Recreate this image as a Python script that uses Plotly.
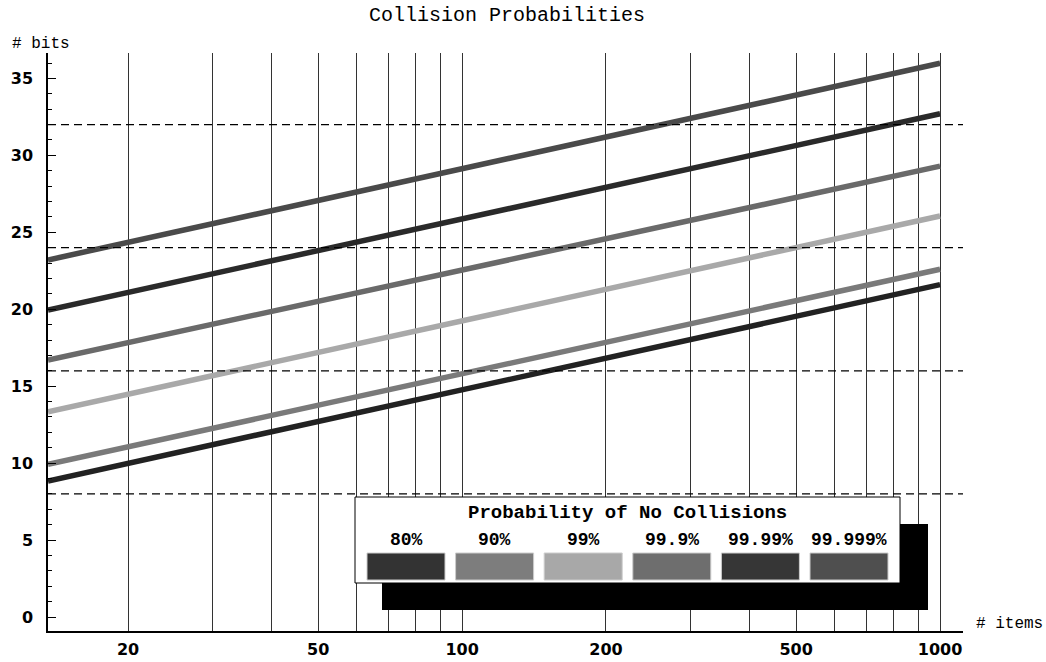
import math
import plotly.graph_objects as go

# ---- data ----
probabilities = ["80%", "90%", "99%", "99.9%", "99.99%", "99.999%"]
items_range = [13.6, 1000]
bits_80 = [8.84, 21.6]
bits_90 = [9.92, 22.6]
bits_99 = [13.34, 26.06]
bits_999 = [16.7, 29.3]
bits_9999 = [19.95, 32.7]
bits_99999 = [23.2, 35.98]
series = [bits_80, bits_90, bits_99, bits_999, bits_9999, bits_99999]
line_colors = ["#222222", "#7a7a7a", "#a9a9a9", "#6a6a6a", "#2a2a2a", "#4a4a4a"]
swatch_colors = ["#333333", "#7d7d7d", "#a8a8a8", "#6e6e6e", "#363636", "#4f4f4f"]

grid_items = [20, 30, 40, 50, 60, 70, 80, 90, 100, 200, 300, 400, 500, 600, 700, 800, 900, 1000]
labelled_items = [20, 50, 100, 200, 500, 1000]
bit_ticks = [0, 5, 10, 15, 20, 25, 30, 35]
bit_guides = [8, 16, 24, 32]

mono = "Liberation Mono, Courier New, monospace"
sans = "DejaVu Sans, sans-serif"

W, H = 1046, 662
PL, PR, PT, PB = 48, 963, 53, 631  # plot area in window pixels

fig = go.Figure()
for name, ys, col in zip(probabilities, series, line_colors):
    fig.add_trace(go.Scatter(x=items_range, y=ys, mode="lines", name=name,
                             line=dict(color=col, width=5.5), showlegend=False,
                             hoverinfo="skip"))


def px_x(px):
    return (px - PL) / float(PR - PL)


def px_y(py):
    return (PB - py) / float(PB - PT)


shapes = []
for g in bit_guides:
    shapes.append(dict(type="line", xref="paper", yref="y", x0=0, x1=1, y0=g, y1=g,
                       line=dict(color="black", width=1.2, dash="8px,5px"), layer="above"))

# legend box (shadow + white box)
shapes.append(dict(type="rect", xref="paper", yref="paper",
                   x0=px_x(382), x1=px_x(928), y0=px_y(610), y1=px_y(524),
                   fillcolor="black", line=dict(width=0), layer="above"))
shapes.append(dict(type="rect", xref="paper", yref="paper",
                   x0=px_x(355), x1=px_x(900), y0=px_y(583), y1=px_y(497),
                   fillcolor="white", line=dict(color="black", width=1), layer="above"))

annotations = [
    dict(text="<b>Probability of No Collisions</b>", xref="paper", yref="paper",
         x=px_x(627), y=px_y(513), xanchor="center", yanchor="middle", showarrow=False,
         font=dict(family=mono, size=19, color="black")),
    dict(text="# bits", xref="paper", yref="paper", x=px_x(10), y=px_y(44),
         xanchor="left", yanchor="middle", showarrow=False,
         font=dict(family=mono, size=16, color="black")),
    dict(text="# items", xref="paper", yref="paper", x=px_x(974), y=px_y(624),
         xanchor="left", yanchor="middle", showarrow=False,
         font=dict(family=mono, size=16, color="black")),
]

sw_start = 367
sw_step = 88.6
sw_w = 78
for i, (lab, col) in enumerate(zip(probabilities, swatch_colors)):
    x0 = sw_start + i * sw_step
    shapes.append(dict(type="rect", xref="paper", yref="paper",
                       x0=px_x(x0), x1=px_x(x0 + sw_w), y0=px_y(580), y1=px_y(553),
                       fillcolor=col, line=dict(color="#cccccc", width=1), layer="above"))
    annotations.append(dict(text="<b>" + lab + "</b>", xref="paper", yref="paper",
                            x=px_x(x0 + sw_w / 2), y=px_y(540), xanchor="center",
                            yanchor="middle", showarrow=False,
                            font=dict(family=mono, size=18, color="black")))

fig.update_layout(
    width=W, height=H,
    margin=dict(l=PL, r=W - PR, t=PT, b=H - PB, autoexpand=False),
    paper_bgcolor="white", plot_bgcolor="white",
    title=dict(text="Collision Probabilities", x=507 / W, y=1 - 14 / H,
               xanchor="center", yanchor="middle",
               font=dict(family=mono, size=20, color="black")),
    shapes=shapes, annotations=annotations,
    xaxis=dict(type="log", range=[math.log10(13.6), 3.048], automargin=False,
               tickvals=grid_items,
               ticktext=[str(v) if v in labelled_items else "" for v in grid_items],
               showgrid=True, gridcolor="#333333", gridwidth=1,
               showline=True, linecolor="black", linewidth=1.5,
               ticks="", zeroline=False, ticklabelstandoff=3,
               tickfont=dict(family=sans, size=16, color="black", weight="bold")),
    yaxis=dict(range=[-0.91, 36.65], tickvals=bit_ticks, automargin=False,
               showgrid=False, zeroline=False,
               showline=True, linecolor="black", linewidth=1.5,
               ticks="inside", ticklen=8, tickcolor="black", tickwidth=1,
               minor=dict(dtick=1, ticks="inside", ticklen=4, tickcolor="black", showgrid=False),
               ticklabelstandoff=10,
               tickfont=dict(family=sans, size=16, color="black", weight="bold")),
)

fig.write_html("out.html", config={"displayModeBar": False},
               post_script="document.body.style.margin='0px';")
